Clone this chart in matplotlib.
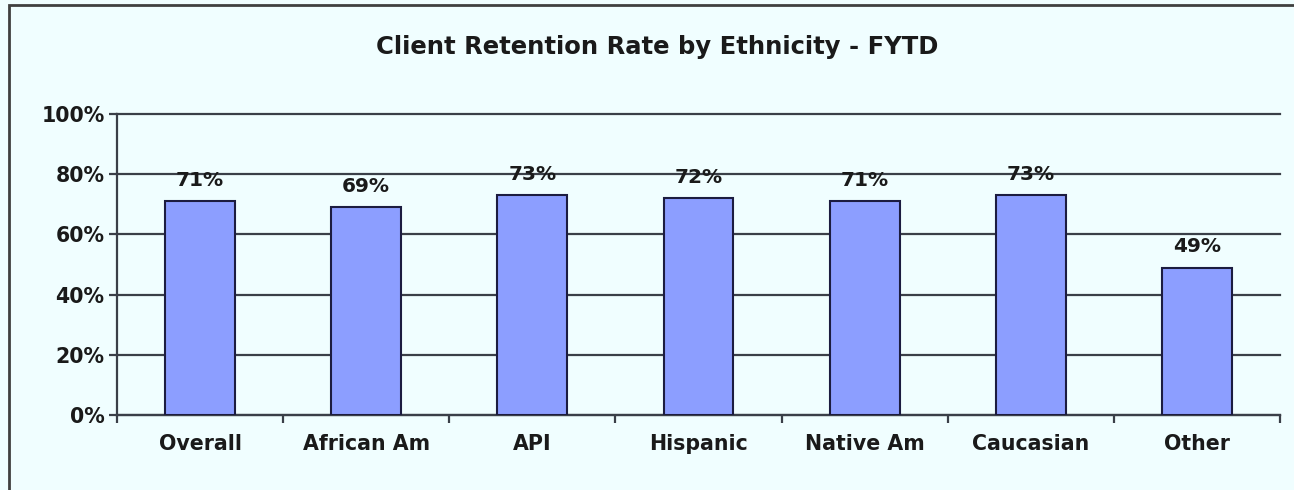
import matplotlib
matplotlib.use("Agg")
import matplotlib.pyplot as plt
from matplotlib.patches import Rectangle
from matplotlib.ticker import FixedLocator, PercentFormatter

categories = ["Overall", "African Am", "API", "Hispanic", "Native Am", "Caucasian", "Other"]
retention = [71, 69, 73, 72, 71, 73, 49]
y_ticks = [0, 20, 40, 60, 80, 100]

bg = "#F0FEFF"
bar_face = "#8C9EFF"
bar_edge = "#1C1C40"
line_col = "#3A3F48"
text_col = "#1a1a1a"

plt.rcParams["font.family"] = ["DejaVu Sans"]

fig = plt.figure(figsize=(12.94, 4.90), dpi=100, facecolor=bg)
ax = fig.add_axes([117 / 1294, 1 - 415 / 490, (1280 - 117) / 1294, (415 - 114) / 490])
ax.set_facecolor(bg)

# outer chart frame
fig.patches.append(Rectangle((9 / 1294, -0.1), 1.2, 1 - 5 / 490 + 0.1,
                             transform=fig.transFigure, fill=False,
                             edgecolor="#404040", linewidth=2.0, zorder=0))

x = list(range(len(categories)))
ax.bar(x, retention, width=0.42, color=bar_face, edgecolor=bar_edge,
       linewidth=1.5, zorder=3)

for xi, v in zip(x, retention):
    ax.annotate(f"{v}%", (xi, v), xytext=(0, 8), textcoords="offset points",
                ha="center", va="bottom", fontsize=14.5, fontweight="bold",
                color=text_col, zorder=4)

ax.set_xlim(-0.5, len(categories) - 0.5)
ax.set_ylim(0, 100)
ax.yaxis.set_major_locator(FixedLocator(y_ticks))
ax.yaxis.set_major_formatter(PercentFormatter(decimals=0))
ax.grid(axis="y", color=line_col, linewidth=1.6, zorder=1)
for gl in ax.yaxis.get_gridlines():
    gl.set_clip_on(False)
ax.set_axisbelow(True)

ax.set_xticks(x)
ax.set_xticklabels(categories, fontsize=14.8, fontweight="bold", color=text_col)
ax.set_xticks([i + 0.5 for i in range(-1, len(categories))], minor=True)
ax.tick_params(axis="x", which="major", length=0, pad=14)
ax.tick_params(axis="x", which="minor", length=6, width=1.6, color=line_col, direction="out")
ax.tick_params(axis="y", length=6, width=1.6, color=line_col, direction="out",
               labelsize=14.8, pad=3)
for lab in ax.get_yticklabels():
    lab.set_fontweight("bold")
    lab.set_color(text_col)

for side in ("top", "right"):
    ax.spines[side].set_visible(False)
for side in ("left", "bottom"):
    ax.spines[side].set_color(line_col)
    ax.spines[side].set_linewidth(1.6)

fig.text(0.508, 1 - 47 / 490, "Client Retention Rate by Ethnicity - FYTD",
         ha="center", va="center", fontsize=17.5, fontweight="bold", color=text_col)

fig.savefig("out.png", dpi=100, facecolor=bg)
